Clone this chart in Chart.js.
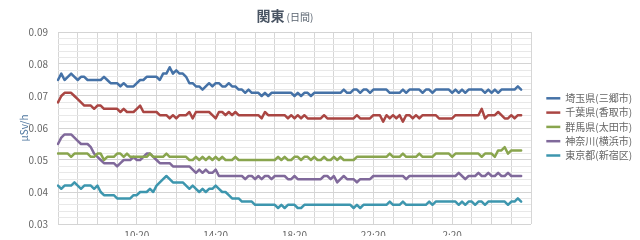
<!DOCTYPE html>
<html>
<head>
<meta charset="utf-8">
<script src="https://cdn.jsdelivr.net/npm/chart.js@4/dist/chart.umd.min.js"></script>
<style>
  html, body { margin: 0; padding: 0; background: #fff; }
  canvas { display: block; }
</style>
</head>
<body>
<canvas id="chart" width="640" height="240"></canvas>
<script>
// Daily air dose rate (μSv/h), Kanto monitoring posts, one reading every 10 minutes from 6:20
const seriesNames = ['埼玉県(三郷市)', '千葉県(香取市)', '群馬県(太田市)', '神奈川(横浜市)', '東京都(新宿区)'];
const seriesColors = ['#4572A7', '#AA4643', '#89A54E', '#80699B', '#3D96AE'];

const saitama = [
  .075,.077,.075,.076,.077,.076,.075,.076,.076,.075,
  .075,.075,.075,.075,.076,.075,.074,.074,.074,.073,
  .074,.073,.073,.073,.074,.075,.075,.076,.076,.076,
  .076,.075,.077,.077,.079,.077,.078,.077,.077,.076,
  .074,.074,.073,.073,.072,.073,.074,.073,.074,.074,
  .073,.073,.074,.073,.073,.072,.072,.071,.072,.071,
  .071,.071,.070,.071,.070,.071,.071,.071,.071,.071,
  .071,.071,.070,.071,.070,.071,.071,.070,.071,.071,
  .071,.071,.071,.071,.071,.071,.071,.072,.071,.071,
  .072,.072,.071,.072,.072,.071,.072,.072,.072,.072,
  .072,.071,.071,.071,.071,.072,.071,.072,.072,.072,
  .072,.071,.072,.072,.071,.072,.072,.072,.072,.072,
  .071,.072,.071,.072,.071,.072,.072,.072,.072,.072,
  .071,.072,.071,.072,.071,.072,.072,.072,.072,.072,
  .073,.072
];
const chiba = [
  .068,.070,.071,.071,.071,.070,.069,.068,.067,.067,
  .067,.066,.067,.067,.066,.066,.066,.066,.066,.065,
  .066,.065,.065,.065,.066,.067,.065,.065,.065,.065,
  .065,.064,.064,.064,.063,.064,.063,.064,.064,.064,
  .065,.063,.065,.065,.065,.065,.065,.064,.063,.065,
  .065,.064,.065,.064,.065,.064,.064,.064,.064,.064,
  .064,.064,.063,.065,.064,.064,.064,.064,.064,.064,
  .063,.064,.063,.064,.063,.064,.063,.063,.063,.063,
  .063,.064,.063,.063,.063,.063,.063,.063,.063,.063,
  .063,.064,.063,.063,.063,.063,.064,.064,.064,.062,
  .064,.063,.064,.063,.064,.062,.064,.064,.063,.064,
  .063,.064,.064,.064,.064,.064,.063,.063,.063,.063,
  .063,.064,.064,.064,.064,.064,.064,.064,.064,.066,
  .063,.064,.064,.064,.065,.064,.063,.063,.064,.063,
  .064,.064
];
const gunma = [
  .052,.052,.052,.052,.051,.052,.052,.052,.052,.052,
  .051,.051,.052,.052,.050,.051,.051,.051,.052,.052,
  .051,.052,.051,.051,.051,.051,.051,.051,.052,.051,
  .051,.051,.051,.052,.051,.051,.051,.051,.051,.051,
  .050,.050,.051,.050,.051,.050,.051,.050,.051,.050,
  .051,.050,.050,.050,.051,.050,.050,.050,.050,.050,
  .050,.050,.050,.050,.050,.050,.050,.051,.050,.051,
  .050,.050,.051,.051,.050,.051,.051,.050,.051,.050,
  .050,.051,.050,.050,.051,.050,.051,.050,.050,.050,
  .050,.051,.051,.051,.051,.051,.051,.051,.051,.051,
  .051,.052,.051,.051,.051,.052,.051,.051,.051,.051,
  .052,.051,.051,.051,.051,.052,.052,.052,.052,.052,
  .051,.052,.052,.052,.052,.052,.052,.052,.052,.051,
  .052,.052,.052,.051,.053,.053,.054,.052,.053,.053,
  .053,.053
];
const kanagawa = [
  .055,.057,.058,.058,.058,.057,.056,.055,.055,.055,
  .054,.052,.051,.050,.049,.049,.049,.049,.048,.049,
  .050,.050,.050,.051,.050,.050,.051,.052,.052,.051,
  .050,.049,.049,.049,.049,.048,.048,.048,.048,.048,
  .048,.047,.046,.047,.046,.047,.046,.046,.047,.045,
  .045,.045,.045,.045,.045,.045,.045,.044,.045,.045,
  .044,.045,.044,.045,.045,.044,.045,.045,.045,.045,
  .044,.044,.045,.044,.044,.044,.044,.044,.044,.044,
  .044,.045,.045,.044,.045,.043,.044,.045,.044,.044,
  .044,.043,.044,.044,.044,.044,.045,.045,.045,.045,
  .045,.045,.045,.045,.045,.045,.044,.045,.045,.045,
  .045,.045,.045,.045,.045,.045,.045,.045,.045,.045,
  .045,.045,.046,.045,.044,.045,.045,.045,.046,.045,
  .045,.046,.045,.045,.046,.045,.045,.046,.045,.045,
  .045,.045
];
const tokyo = [
  .042,.041,.042,.042,.042,.043,.042,.041,.042,.042,
  .042,.041,.042,.040,.039,.039,.039,.039,.038,.038,
  .038,.038,.038,.039,.039,.040,.040,.040,.041,.040,
  .042,.043,.044,.045,.044,.043,.043,.043,.043,.042,
  .041,.042,.041,.040,.041,.040,.041,.041,.042,.041,
  .040,.040,.039,.038,.038,.038,.037,.037,.037,.037,
  .036,.036,.036,.036,.036,.036,.036,.035,.036,.035,
  .036,.036,.036,.035,.035,.036,.036,.036,.036,.036,
  .036,.036,.036,.036,.036,.036,.036,.036,.036,.036,
  .035,.036,.035,.036,.036,.036,.036,.036,.036,.036,
  .036,.037,.036,.036,.036,.037,.036,.036,.036,.036,
  .036,.036,.036,.037,.036,.037,.037,.037,.037,.037,
  .037,.037,.036,.037,.036,.037,.037,.036,.037,.037,
  .036,.037,.037,.037,.037,.037,.037,.036,.037,.037,
  .038,.037
];
const seriesValues = [saitama, chiba, gunma, kanagawa, tokyo];

// x-axis categories: 10-minute slots covering 6:20 to 6:20 the next day
const startMinutes = 6 * 60 + 20;
const slotMinutes = 10;
const slotCount = 145;
const times = [];
for (let k = 0; k < slotCount; k++) {
  const t = (startMinutes + k * slotMinutes) % 1440;
  times.push(Math.floor(t / 60) + ':' + String(t % 60).padStart(2, '0'));
}
const tickLabels = ['10:20', '14:20', '18:20', '22:20', '2:20'];

const FONT = '"Noto Sans CJK JP", "Noto Sans", sans-serif';
const isHourly = label => label.endsWith(':20');
const isMajorY = v => Math.abs(v * 100 - Math.round(v * 100)) < 1e-6;

// Title: bold region name followed by a smaller period note
const mixedTitle = {
  id: 'mixedTitle',
  afterDraw(chart) {
    const ctx = chart.ctx;
    const main = '関東', note = '(日間)';
    ctx.save();
    ctx.textBaseline = 'alphabetic';
    ctx.fillStyle = '#4a5564';
    ctx.font = 'bold 14px ' + FONT;
    const w1 = ctx.measureText(main).width;
    ctx.font = '10px ' + FONT;
    const w2 = ctx.measureText(note).width;
    const gap = 2;
    const x0 = 285 - (w1 + gap + w2) / 2;
    ctx.font = 'bold 14px ' + FONT;
    ctx.fillText(main, x0, 21);
    ctx.font = '10px ' + FONT;
    ctx.fillStyle = '#5a6470';
    ctx.fillText(note, x0 + w1 + gap, 21);
    ctx.restore();
  }
};

new Chart(document.getElementById('chart'), {
  type: 'line',
  data: {
    labels: times,
    datasets: seriesNames.map((name, k) => ({
      label: name,
      data: seriesValues[k],
      borderColor: seriesColors[k],
      backgroundColor: seriesColors[k],
      borderWidth: 2.5,
      pointRadius: 0,
      pointHoverRadius: 0,
      tension: 0,
      fill: false,
      borderJoinStyle: 'round',
      borderCapStyle: 'round'
    }))
  },
  options: {
    responsive: false,
    animation: false,
    devicePixelRatio: 1,
    layout: { padding: { top: 32, left: 0, right: 0, bottom: 0 } },
    plugins: {
      legend: {
        position: 'right',
        align: 'start',
        fullSize: false,
        maxWidth: 98,
        title: { display: true, text: '', padding: { top: 45, bottom: 0 }, font: { family: FONT, size: 10 } },
        labels: {
          usePointStyle: true,
          pointStyle: 'line',
          pointStyleWidth: 14,
          padding: 4.3,
          color: '#666',
          font: { family: FONT, size: 10 }
        }
      },
      tooltip: { enabled: false }
    },
    scales: {
      x: {
        type: 'category',
        border: { display: false },
        grid: {
          drawTicks: false,
          color: ctx => isHourly(times[ctx.index] || '') ? '#d6d6d6' : 'rgba(0,0,0,0)'
        },
        ticks: {
          autoSkip: false,
          maxRotation: 0,
          minRotation: 0,
          padding: 5,
          color: '#666',
          font: { family: FONT, size: 10 },
          callback(value) {
            const label = this.getLabelForValue(value);
            return tickLabels.includes(label) ? label : '';
          }
        },
        afterFit(scale) { scale.height = 12; }
      },
      y: {
        min: 0.03,
        max: 0.09,
        border: { display: false },
        grid: {
          drawTicks: false,
          color: ctx => isMajorY(ctx.tick.value) ? '#d4d4d4' : '#e8e8e8'
        },
        ticks: {
          stepSize: 0.002,
          autoSkip: false,
          padding: 10,
          color: '#666',
          font: { family: FONT, size: 10 },
          callback: v => isMajorY(v) ? v.toFixed(2) : ''
        },
        title: {
          display: true,
          text: 'μSv/h',
          color: '#4d759e',
          font: { family: FONT, size: 10 },
          padding: { top: 18, bottom: 0 }
        },
        afterFit(scale) { scale.width = 58; }
      },
      legendGap: {
        type: 'linear',
        position: 'right',
        display: true,
        grid: { display: false },
        ticks: { display: false },
        border: { display: false },
        afterFit(scale) { scale.width = 11; }
      }
    }
  },
  plugins: [mixedTitle]
});
</script>
</body>
</html>
